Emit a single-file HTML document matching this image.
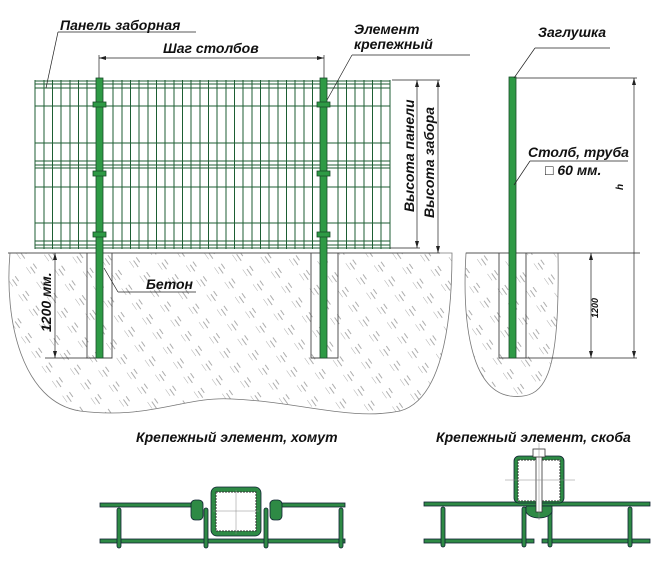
<!DOCTYPE html>
<html><head><meta charset="utf-8"><style>
html,body{margin:0;padding:0;background:#fff;}
svg{display:block}
text{font-family:"Liberation Sans",sans-serif;font-style:italic;font-weight:bold;fill:#111}
</style></head><body>
<svg width="671" height="566" viewBox="0 0 671 566" xmlns="http://www.w3.org/2000/svg">
<defs>
<pattern id="h" width="22" height="18" patternUnits="userSpaceOnUse" patternTransform="rotate(-35)">
<line x1="0" y1="0" x2="0" y2="8" stroke="#999" stroke-width="0.8"/>
<line x1="4" y1="2" x2="4" y2="10" stroke="#999" stroke-width="0.8"/>
<line x1="8" y1="1" x2="8" y2="7" stroke="#999" stroke-width="0.8"/>
</pattern>
</defs>
<path d="M10,253 C4,320 22,402 80,411 C150,420 185,396 232,399 C300,402 352,421 400,411 C440,400 452,330 452,253 Z" fill="url(#h)" stroke="#777" stroke-width="0.8"/>
<path d="M466,253 C462,320 470,390 510,396 C545,400 560,380 558,253 Z" fill="url(#h)" stroke="#777" stroke-width="0.8"/>
<line x1="8" y1="253" x2="440" y2="253" stroke="#555" stroke-width="1"/>
<line x1="466" y1="253" x2="640" y2="253" stroke="#555" stroke-width="1"/>
<g fill="none" stroke="#444" stroke-width="0.9">
<path d="M87,253 V358 H112 V253"/><path d="M311,253 V358 H338 V253"/><path d="M499,253 V358 H526 V253"/>
</g>
<g stroke="#1d5e33" stroke-width="1">
<line x1="35" y1="81" x2="390" y2="81"/><line x1="35" y1="84" x2="390" y2="84"/><line x1="35" y1="88" x2="390" y2="88"/>
<line x1="35" y1="106" x2="390" y2="106"/><line x1="35" y1="143" x2="390" y2="143"/>
<line x1="35" y1="161" x2="390" y2="161"/><line x1="35" y1="165" x2="390" y2="165"/><line x1="35" y1="168" x2="390" y2="168"/>
<line x1="35" y1="187" x2="390" y2="187"/><line x1="35" y1="223" x2="390" y2="223"/>
<line x1="35" y1="241" x2="390" y2="241"/><line x1="35" y1="245" x2="390" y2="245"/><line x1="35" y1="248" x2="390" y2="248"/>
<path d="M35,80 V249 M44,80 V249 M52.5,80 V249 M61,80 V249 M70,80 V249 M78.5,80 V249 M87,80 V249 M113,80 V249 M122,80 V249 M130.5,80 V249 M139,80 V249 M148,80 V249 M156.5,80 V249 M165,80 V249 M174,80 V249 M182.5,80 V249 M191,80 V249 M200,80 V249 M208.5,80 V249 M217,80 V249 M226,80 V249 M234.5,80 V249 M243,80 V249 M252,80 V249 M260.5,80 V249 M269,80 V249 M278,80 V249 M286.5,80 V249 M295,80 V249 M304,80 V249 M312.5,80 V249 M338,80 V249 M346.5,80 V249 M355,80 V249 M364,80 V249 M372.5,80 V249 M381,80 V249 M390,80 V249" fill="none"/>
</g>
<g fill="#2e9a45" stroke="#1a4d2a" stroke-width="0.8">
<rect x="96" y="78" width="7" height="280"/><rect x="320" y="78" width="7" height="280"/><rect x="509" y="77" width="7" height="281"/>
<rect x="93" y="102" width="13" height="5"/><rect x="93" y="171" width="13" height="5"/><rect x="93" y="232" width="13" height="5"/>
<rect x="317" y="102" width="13" height="5"/><rect x="317" y="171" width="13" height="5"/><rect x="317" y="232" width="13" height="5"/>
</g>
<g stroke="#222" stroke-width="0.7" fill="none">
<line x1="99" y1="78" x2="99" y2="55"/><line x1="324" y1="78" x2="324" y2="55"/><line x1="99" y1="58" x2="324" y2="58"/>
<line x1="392" y1="80" x2="440" y2="80"/><line x1="417" y1="80" x2="417" y2="248"/><line x1="438" y1="80" x2="438" y2="253"/>
<line x1="390" y1="248" x2="420" y2="248"/>
<line x1="45" y1="358" x2="87" y2="358"/><line x1="55" y1="253" x2="55" y2="358"/>
<line x1="516" y1="78" x2="637" y2="78"/><line x1="634" y1="78" x2="634" y2="358"/><line x1="526" y1="358" x2="637" y2="358"/>
<line x1="591" y1="253" x2="591" y2="358"/>
<path d="M58,32 L196,32 M58,32 L46,88"/><path d="M352,55 L470,55 M352,55 L327,100"/>
<path d="M535,48 L610,48 M535,48 L514,78"/><path d="M530,161 L628,161 M530,161 L514,185"/>
<path d="M118,292 L196,292 M118,292 L104,268"/>
</g>
<g fill="#222">
<path d="M99,58 l7,-2 v4z M324,58 l-7,-2 v4z"/>
<path d="M417,80 l-2,7 h4z M417,248 l-2,-7 h4z M438,80 l-2,7 h4z M438,253 l-2,-7 h4z"/>
<path d="M55,253 l-2,7 h4z M55,358 l-2,-7 h4z M634,78 l-2,7 h4z M634,358 l-2,-7 h4z M591,253 l-2,7 h4z M591,358 l-2,-7 h4z"/>
</g>
<text x="60" y="30" font-size="14">Панель заборная</text>
<text x="163" y="53" font-size="14">Шаг столбов</text>
<text x="354" y="34" font-size="14">Элемент</text>
<text x="354" y="49" font-size="14">крепежный</text>
<text x="538" y="37" font-size="14">Заглушка</text>
<text x="528" y="157" font-size="14">Столб, труба</text>
<text x="545" y="175" font-size="14"><tspan font-style="normal" font-weight="normal">□</tspan>  60 мм.</text>
<text x="146" y="289" font-size="14">Бетон</text>
<text font-size="14" transform="translate(414,212) rotate(-90)">Высота панели</text>
<text font-size="14" transform="translate(434,218) rotate(-90)">Высота забора</text>
<text font-size="14" transform="translate(51,332) rotate(-90)">1200 мм.</text>
<text font-size="9" font-weight="normal" transform="translate(598,318) rotate(-90)">1200</text>
<text font-size="10" font-weight="normal" transform="translate(623,190) rotate(-90)">h</text>
<text x="136" y="442" font-size="14">Крепежный элемент, хомут</text>
<text x="436" y="442" font-size="14">Крепежный элемент, скоба</text>
<g fill="#2e8a45" stroke="#123" stroke-width="0.8">
<rect x="100" y="503" width="100" height="4"/><rect x="270" y="503" width="75" height="4"/>
<rect x="100" y="539" width="245" height="4"/>
<rect x="117" y="508" width="4" height="40" rx="2"/><rect x="204" y="508" width="4" height="40" rx="2"/><rect x="264" y="508" width="4" height="40" rx="2"/><rect x="339" y="508" width="4" height="40" rx="2"/>
<rect x="211" y="487" width="50" height="49" rx="6"/>
<rect x="191" y="500" width="12" height="20" rx="4"/><rect x="270" y="500" width="12" height="20" rx="4"/>
</g>
<rect x="216" y="492" width="40" height="39" fill="#fff" stroke="#333" stroke-width="1" stroke-dasharray="2,1"/>
<path d="M236,490 V534 M213,511 H259" stroke="#888" stroke-width="0.5"/>
<g fill="#2e8a45" stroke="#123" stroke-width="0.8">
<rect x="424" y="502" width="226" height="4"/>
<rect x="424" y="539" width="110" height="4"/><rect x="542" y="539" width="108" height="4"/>
<rect x="441" y="507" width="4" height="40" rx="2"/><rect x="522" y="507" width="4" height="40" rx="2"/><rect x="548" y="507" width="4" height="40" rx="2"/><rect x="628" y="507" width="4" height="40" rx="2"/>
<rect x="514" y="456" width="50" height="47" rx="5"/>
<path d="M526,506 H552 V512 C548,520 530,520 526,512 Z"/>
</g>
<rect x="518" y="460" width="42" height="41" fill="#fff" stroke="#333" stroke-width="1" stroke-dasharray="2,1"/>
<rect x="536" y="452" width="6" height="60" fill="#fff" stroke="#333" stroke-width="0.8"/>
<rect x="533" y="449" width="12" height="8" fill="#fff" stroke="#333" stroke-width="0.8"/>
<path d="M539,443 V520 M505,480 H575" stroke="#888" stroke-width="0.5"/>
</svg>
</body></html>
